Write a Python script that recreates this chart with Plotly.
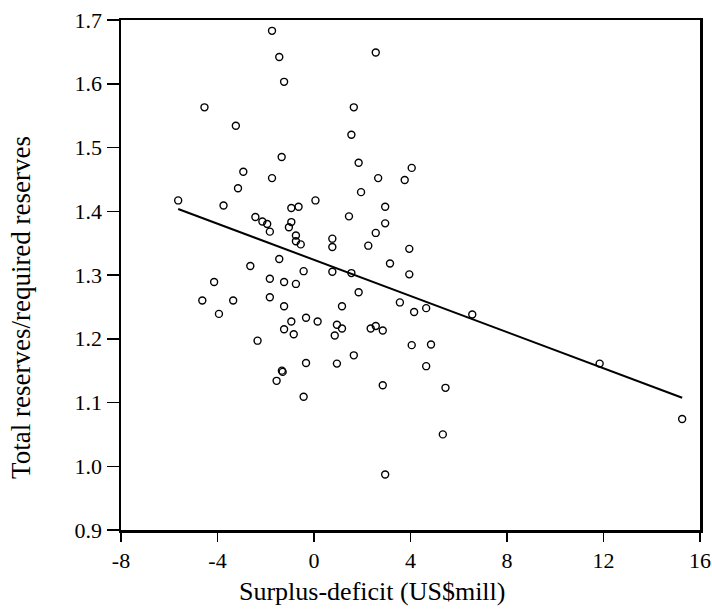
import numpy as np
import plotly.graph_objects as go

surplus_deficit = [
    -1.74, -1.44, -1.24, -4.54, -3.24, 1.65, 1.55, 2.56, -1.34, 1.85,
    -2.93, -1.74, 2.66, 3.76, 4.05, -3.15, 1.95, -5.63, 0.06, -3.75,
    -0.94, -0.64, 2.95, 1.45, 2.95, 2.56, -2.43, -2.14, -1.94, -1.83,
    -0.94, -1.04, -0.75, -0.75, -0.55, 0.76, 0.76, 2.25, 3.95, 3.15,
    3.95, -1.44, -2.64, -0.43, 0.76, 1.55, -1.83, -1.24, -0.75, -4.14,
    -4.63, -3.35, -3.94, -1.83, -1.24, 1.85, 1.16, 3.56, -0.94, -0.33,
    0.15, 0.95, 1.16, 0.86, -1.24, -0.84, 2.35, 2.56, 2.85, -2.34,
    1.65, -0.33, 0.95, -1.33, -1.30, -1.55, 4.05, 4.15, 4.65, 6.56,
    4.85, 4.65, 11.84, -0.43, 2.85, 2.95, 5.45, 5.34, 15.26,
]
reserve_ratio = [
    1.683, 1.642, 1.603, 1.563, 1.534, 1.563, 1.520, 1.649, 1.485, 1.476,
    1.462, 1.452, 1.452, 1.449, 1.468, 1.436, 1.430, 1.417, 1.417, 1.409,
    1.405, 1.407, 1.407, 1.392, 1.381, 1.366, 1.391, 1.384, 1.380, 1.368,
    1.383, 1.375, 1.362, 1.353, 1.348, 1.357, 1.344, 1.346, 1.341, 1.318,
    1.301, 1.325, 1.314, 1.306, 1.305, 1.303, 1.294, 1.289, 1.286, 1.289,
    1.260, 1.260, 1.239, 1.265, 1.251, 1.273, 1.251, 1.257, 1.227, 1.233,
    1.227, 1.222, 1.216, 1.205, 1.215, 1.207, 1.216, 1.220, 1.213, 1.197,
    1.174, 1.162, 1.161, 1.150, 1.148, 1.134, 1.190, 1.242, 1.248, 1.238,
    1.191, 1.157, 1.161, 1.109, 1.127, 0.987, 1.123, 1.050, 1.074,
]

x_ticks = [-8, -4, 0, 4, 8, 12, 16]
y_ticks = [0.9, 1.0, 1.1, 1.2, 1.3, 1.4, 1.5, 1.6, 1.7]
x_title = "Surplus-deficit (US$mill)"
y_title = "Total reserves/required reserves"

xs = np.array(surplus_deficit)
ys = np.array(reserve_ratio)
slope, intercept = np.polyfit(xs, ys, 1)
fit_x = np.array([xs.min(), xs.max()])
fit_y = intercept + slope * fit_x

font_family = "Liberation Serif, Times New Roman, serif"

fig = go.Figure()
fig.add_trace(go.Scatter(
    x=surplus_deficit, y=reserve_ratio, mode="markers",
    marker=dict(symbol="circle-open", size=7, color="black", line=dict(width=1.4, color="black")),
    showlegend=False, hoverinfo="skip",
))
fig.add_trace(go.Scatter(
    x=fit_x, y=fit_y, mode="lines",
    line=dict(color="black", width=2),
    showlegend=False, hoverinfo="skip",
))

fig.update_layout(
    width=712, height=615,
    margin=dict(l=121, r=12, t=20, b=85, autoexpand=False),
    paper_bgcolor="white", plot_bgcolor="white",
    font=dict(family=font_family, size=22, color="black"),
    annotations=[
        dict(text=x_title, xref="paper", yref="paper", x=0.4335, y=-0.12,
             xanchor="center", yanchor="middle", showarrow=False,
             font=dict(family=font_family, size=26, color="black")),
        dict(text=y_title, xref="paper", yref="paper", x=-0.174, y=0.436,
             xanchor="center", yanchor="middle", showarrow=False, textangle=-90,
             font=dict(family=font_family, size=27, color="black")),
    ],
)
fig.update_xaxes(
    range=[-8, 16], tickvals=x_ticks, ticktext=[str(v) for v in x_ticks],
    showgrid=False, zeroline=False, automargin=False,
    showline=True, linecolor="black", linewidth=2.5, mirror=True,
    ticks="outside", ticklen=9, tickwidth=1.5, tickcolor="black",
    tickfont=dict(family=font_family, size=22, color="black"),
)
fig.update_yaxes(
    range=[0.9, 1.7], tickvals=y_ticks, ticktext=[f"{v:.1f}" for v in y_ticks],
    showgrid=False, zeroline=False, automargin=False,
    showline=True, linecolor="black", linewidth=2.5, mirror=True,
    ticks="outside", ticklen=12, tickwidth=1.5, tickcolor="black",
    tickfont=dict(family=font_family, size=22, color="black"),
)

fig.write_html(
    "out.html",
    config={"displayModeBar": False, "staticPlot": True},
    post_script="document.body.style.margin='0';document.body.style.overflow='hidden';",
)
